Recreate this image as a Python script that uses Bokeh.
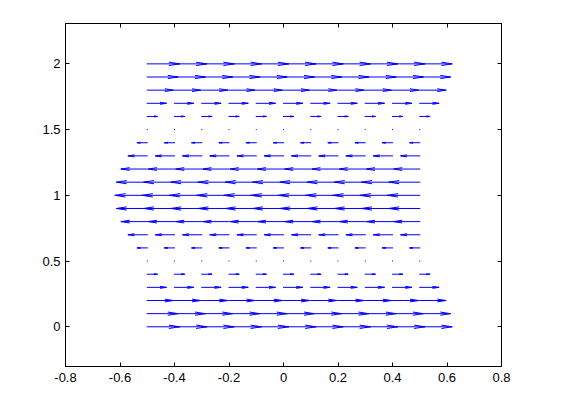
import numpy as np
from bokeh.plotting import figure
from bokeh.models import FixedTicker, LinearAxis, Range1d
from bokeh.embed import file_html
from bokeh.resources import INLINE

# ---- data ----
x_cols = [-0.5, -0.4, -0.3, -0.2, -0.1, 0.0, 0.1, 0.2, 0.3, 0.4, 0.5]
y_rows = [0.0, 0.1, 0.2, 0.3, 0.4, 0.5, 0.6, 0.7, 0.8, 0.9, 1.0,
          1.1, 1.2, 1.3, 1.4, 1.5, 1.6, 1.7, 1.8, 1.9, 2.0]
u_rows = [1.0, 0.95, 0.81, 0.59, 0.31, 0.0, -0.31, -0.59, -0.81, -0.95, -1.0,
          -0.95, -0.81, -0.59, -0.31, 0.0, 0.31, 0.59, 0.81, 0.95, 1.0]
v_rows = [0.0] * len(y_rows)

x_ticks = [-0.8, -0.6, -0.4, -0.2, 0.0, 0.2, 0.4, 0.6, 0.8]
x_tick_labels = ["-0.8", "-0.6", "-0.4", "-0.2", "0", "0.2", "0.4", "0.6", "0.8"]
y_ticks = [0.0, 0.5, 1.0, 1.5, 2.0]
y_tick_labels = ["0", "0.5", "1", "1.5", "2"]

# ---- quiver geometry (MATLAB-style autoscale and arrowheads) ----
X, Y = np.meshgrid(np.array(x_cols), np.array(y_rows))
U = np.repeat(np.array(u_rows)[:, None], len(x_cols), axis=1)
V = np.repeat(np.array(v_rows)[:, None], len(x_cols), axis=1)
m, n = X.shape
delx = (X.max() - X.min()) / n
dely = (Y.max() - Y.min()) / m
dl = delx ** 2 + dely ** 2
maxlen = np.sqrt((U ** 2 + V ** 2) / dl).max()
scale = 0.9 / maxlen
U = U * scale
V = V * scale
alpha, beta = 0.33, 0.33
eps = 1e-16

x0 = X.ravel(); y0 = Y.ravel()
x1 = (X + U).ravel(); y1 = (Y + V).ravel()
u = U.ravel(); v = V.ravel()
ha_x = x1 - alpha * (u + beta * (v + eps))
ha_y = y1 - alpha * (v - beta * (u + eps))
hb_x = x1 - alpha * (u - beta * (v + eps))
hb_y = y1 - alpha * (v + beta * (u + eps))

W, H = 545, 404
p = figure(width=W, height=H, output_backend="svg", toolbar_location=None,
           x_range=Range1d(-0.8, 0.8), y_range=Range1d(-0.302, 2.307),
           min_border_left=65, min_border_right=44, min_border_top=23,
           min_border_bottom=38, background_fill_color="white",
           border_fill_color="white")
p.grid.visible = False
p.outline_line_color = "black"
p.outline_line_width = 1

blue = "#0000ff"
p.segment(x0, y0, x1, y1, line_color=blue, line_width=1, line_cap="square")
p.segment(ha_x, ha_y, x1, y1, line_color=blue, line_width=1)
p.segment(hb_x, hb_y, x1, y1, line_color=blue, line_width=1)

font = "Liberation Sans"
def style(ax, ticks, labels, standoff, show):
    ax.ticker = FixedTicker(ticks=ticks)
    ax.major_label_overrides = {t: l for t, l in zip(ticks, labels)}
    ax.major_tick_in = 4
    ax.major_tick_out = 0
    ax.minor_tick_line_color = None
    ax.major_tick_line_color = "black"
    ax.axis_line_color = "black"
    ax.major_label_text_font = font
    ax.major_label_text_font_size = "13px"
    ax.major_label_text_color = "black" if show else None
    ax.major_label_standoff = standoff

style(p.xaxis[0], x_ticks, x_tick_labels, 6, True)
style(p.yaxis[0], y_ticks, y_tick_labels, 5, True)
top = LinearAxis()
right = LinearAxis()
p.add_layout(top, "above")
p.add_layout(right, "right")
style(top, x_ticks, x_tick_labels, 0, False)
style(right, y_ticks, y_tick_labels, 0, False)

open("out.html", "w").write(file_html(p, INLINE))
